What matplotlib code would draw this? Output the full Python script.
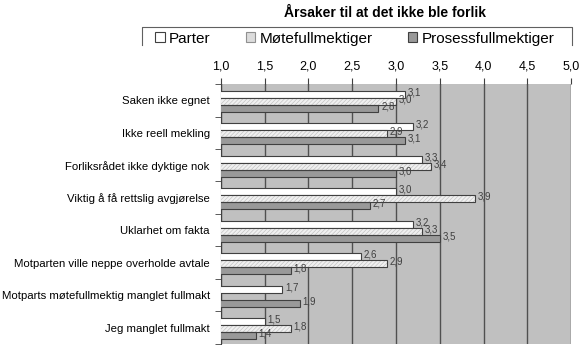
import numpy as np
import matplotlib.pyplot as plt
from matplotlib.patches import Patch
from matplotlib.lines import Line2D

# data
categories = ["Saken ikke egnet", "Ikke reell mekling", "Forliksrådet ikke dyktige nok",
              "Viktig å få rettslig avgjørelse", "Uklarhet om fakta",
              "Motparten ville neppe overholde avtale",
              "Motparts møtefullmektig manglet fullmakt", "Jeg manglet fullmakt"]
parter = [3.1, 3.2, 3.3, 3.0, 3.2, 2.6, 1.7, 1.5]
mote = [3.0, 2.9, 3.4, 3.9, 3.3, 2.9, np.nan, 1.8]
prosess = [2.8, 3.1, 3.0, 2.7, 3.5, 1.8, 1.9, 1.4]
series_names = ["Parter", "Møtefullmektiger", "Prosessfullmektiger"]
xticks = [1.0, 1.5, 2.0, 2.5, 3.0, 3.5, 4.0, 4.5, 5.0]

plt.rcParams['font.family'] = ['Liberation Sans', 'DejaVu Sans']
plt.rcParams['hatch.linewidth'] = 0.5

fig = plt.figure(figsize=(5.8, 3.45), dpi=100)
ax = fig.add_axes([0.381, 0.003, 0.6035, 0.7535])
ax.set_facecolor('#c0c0c0')

y = np.arange(len(categories)) + 0.03
h = 0.215
edge = '#404040'

ax.barh(y - h, parter, h, color='white', edgecolor=edge, lw=0.8, zorder=3)
ax.barh(y, mote, h, color='#f0f0f0', edgecolor='#c4c4c4', hatch='////////', lw=0, zorder=3)
ax.barh(y, mote, h, color='none', edgecolor=edge, lw=0.8, zorder=4)
ax.barh(y + h, prosess, h, color='#999999', edgecolor=edge, lw=0.8, zorder=3)

def fmt(v):
    return f"{v:.1f}".replace('.', ',')

for vals, off in [(parter, -h), (mote, 0), (prosess, h)]:
    for i, v in enumerate(vals):
        if not np.isnan(v):
            ax.text(v + 0.03, y[i] + off - 0.06, fmt(v), fontsize=7, color='#404040',
                    va='center', ha='left', zorder=5)

ax.set_xlim(1, 5)
ax.set_ylim(len(categories) - 0.5, -0.5)
ax.set_xticks(xticks)
ax.set_xticklabels([fmt(t) for t in xticks], fontsize=9)
ax.xaxis.tick_top()
ax.tick_params(axis='x', direction='out', length=4, color=edge, pad=4)
ax.grid(axis='x', color='#505050', lw=1, zorder=1)

ax.set_yticks(np.arange(len(categories)))
ax.set_yticklabels(categories, fontsize=8.2)
ax.set_yticks(np.arange(len(categories) + 1) - 0.5, minor=True)
ax.tick_params(axis='y', which='major', length=0, pad=8)
ax.tick_params(axis='y', which='minor', length=4, color=edge, direction='out')

for s in ['top', 'right', 'bottom']:
    ax.spines[s].set_visible(False)
ax.spines['left'].set_color(edge)

fig.text(0.664, 0.962, "Årsaker til at det ikke ble forlik", ha='center', va='center',
         fontsize=10, fontweight='bold')

handles = [Patch(facecolor='white', edgecolor=edge, lw=0.8),
           Patch(facecolor='#dcdcdc', edgecolor='#909090', lw=0.8),
           Patch(facecolor='#999999', edgecolor=edge, lw=0.8)]
fig.legend(handles, series_names, loc='center', bbox_to_anchor=(0.612, 0.888), ncol=3,
           frameon=False, fontsize=11, handlelength=0.6, handleheight=0.6,
           handletextpad=0.3, columnspacing=2.3, borderpad=0)

# legend box, bottom edge cut off like the original
fig.add_artist(Line2D([0.245, 0.245, 0.986, 0.986], [0.870, 0.922, 0.922, 0.870],
                      transform=fig.transFigure, color='#606060', lw=0.8))

fig.savefig('out.png', dpi=100)
